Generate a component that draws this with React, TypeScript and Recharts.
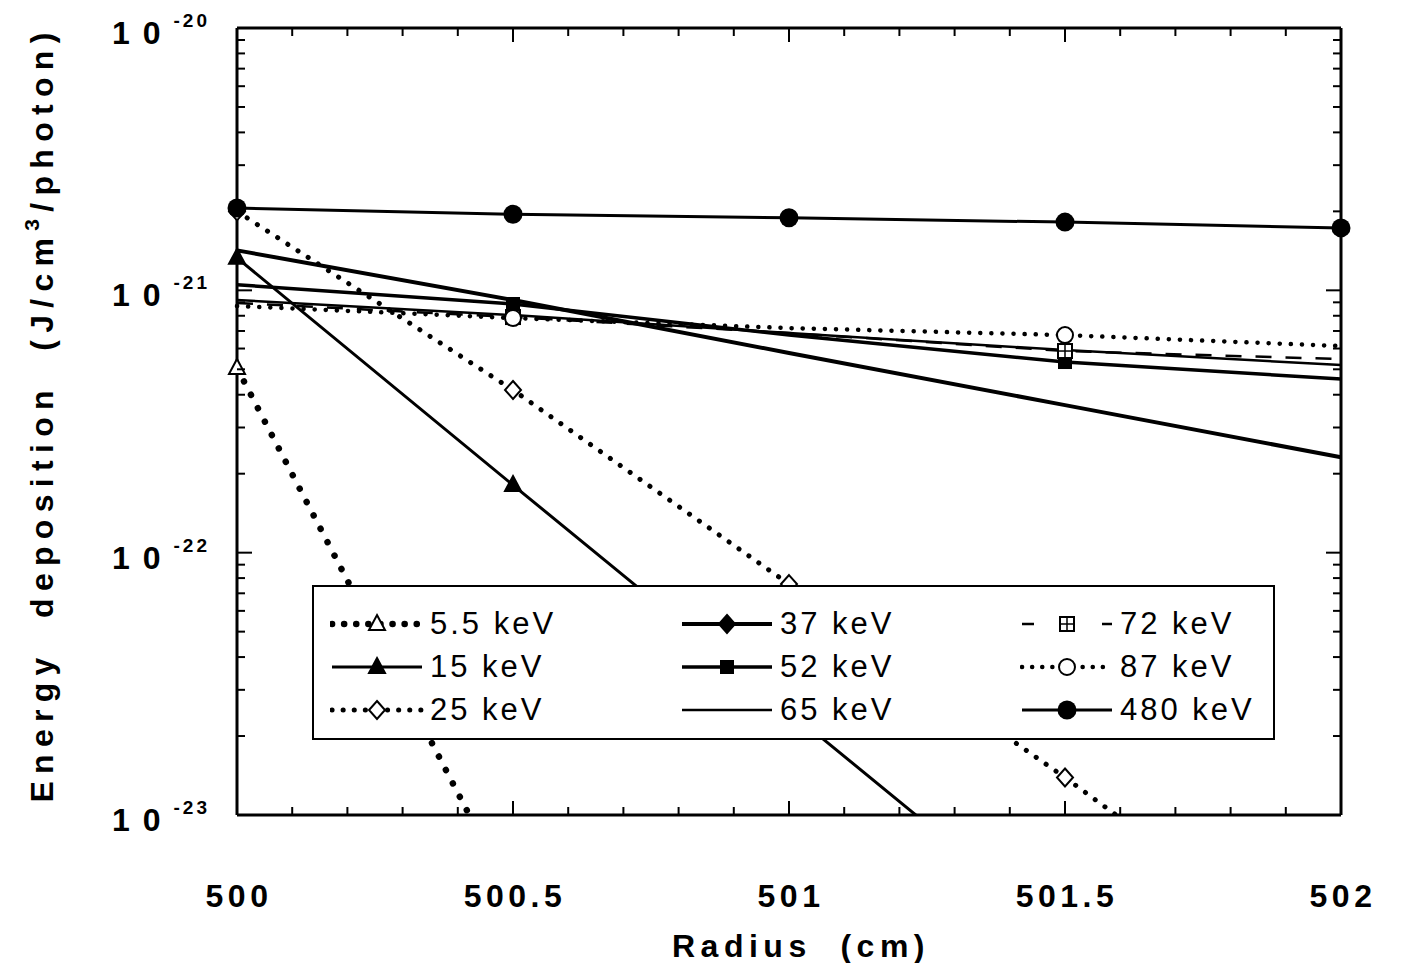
import React from 'react';
import { LineChart, Line, XAxis, YAxis, Legend } from 'recharts';

// radius (cm) where the curves were sampled
const radius = [500, 500.5, 501, 501.5, 502];

// energy deposition (J/cm^3/photon)
const kev5_5 = [5.06e-22, 4.78e-24, null, null, null];
const kev15 = [1.33e-21, 1.81e-22, 2.49e-23, 3.42e-24, null];
const kev25 = [2.0e-21, 4.17e-22, 7.59e-23, 1.39e-23, 2.35e-24];
const kev37 = [1.42e-21, 9.18e-22, 5.77e-22, 3.65e-22, 2.31e-22];
const kev52 = [1.05e-21, 8.87e-22, 6.75e-22, 5.33e-22, 4.59e-22];
const kev65 = [9.18e-22, 8.05e-22, 6.87e-22, 5.92e-22, 5.19e-22];
const kev72 = [8.95e-22, 7.91e-22, 6.87e-22, 5.87e-22, 5.47e-22];
const kev87 = [8.71e-22, 7.84e-22, 7.18e-22, 6.75e-22, 6.13e-22];
const kev480 = [2.06e-21, 1.95e-21, 1.89e-21, 1.82e-21, 1.73e-21];

const xTicks = [
  500, 500.1, 500.2, 500.3, 500.4, 500.5, 500.6, 500.7, 500.8, 500.9,
  501, 501.1, 501.2, 501.3, 501.4, 501.5, 501.6, 501.7, 501.8, 501.9, 502,
];
const xLabels = [500, 500.5, 501, 501.5, 502];
const yDecades = [1e-23, 1e-22, 1e-21, 1e-20];
const yTicks = [
  ...yDecades.slice(0, 3).flatMap((d) => [1, 2, 3, 4, 5, 6, 7, 8, 9].map((m) => m * d)),
  1e-20,
];

const FONT = '"Liberation Sans", Arial, Helvetica, sans-serif';

type Marker = 'triOpen' | 'triFill' | 'diaOpen' | 'diaFill' | 'sqFill' | 'sqCross' | 'cirOpen' | 'cirFill' | 'none';

const series = [
  { key: 'k5_5', name: '5.5 keV', values: kev5_5, width: 6.5, dash: '0.1 15', legendDash: '0.1 12', round: true, marker: 'triOpen' as Marker, markAt: [500] },
  { key: 'k15', name: '15 keV', values: kev15, width: 3, dash: undefined, legendDash: undefined, round: false, marker: 'triFill' as Marker, markAt: [500, 500.5, 501] },
  { key: 'k25', name: '25 keV', values: kev25, width: 5, dash: '0.1 12', legendDash: '0.1 11', round: true, marker: 'diaOpen' as Marker, markAt: [500, 500.5, 501, 501.5] },
  { key: 'k37', name: '37 keV', values: kev37, width: 4, dash: undefined, legendDash: undefined, round: false, marker: 'diaFill' as Marker, markAt: [] as number[] },
  { key: 'k52', name: '52 keV', values: kev52, width: 3.5, dash: undefined, legendDash: undefined, round: false, marker: 'sqFill' as Marker, markAt: [500.5, 501.5] },
  { key: 'k65', name: '65 keV', values: kev65, width: 2.5, dash: undefined, legendDash: undefined, round: false, marker: 'none' as Marker, markAt: [] as number[] },
  { key: 'k72', name: '72 keV', values: kev72, width: 2.5, dash: '16 14', legendDash: '12 28', round: false, marker: 'sqCross' as Marker, markAt: [500.5, 501.5] },
  { key: 'k87', name: '87 keV', values: kev87, width: 4.5, dash: '0.1 11', legendDash: '0.1 10', round: true, marker: 'cirOpen' as Marker, markAt: [500.5, 501.5] },
  { key: 'k480', name: '480 keV', values: kev480, width: 3, dash: undefined, legendDash: undefined, round: false, marker: 'cirFill' as Marker, markAt: radius },
];

const data = radius.map((r, i) => {
  const row: any = { r };
  series.forEach((s) => { row[s.key] = s.values[i]; });
  return row;
});

function drawMarker(type: Marker, cx: number, cy: number) {
  const sw = 2;
  switch (type) {
    case 'triOpen':
    case 'triFill':
      return <polygon points={`${cx},${cy - 9} ${cx + 8},${cy + 6} ${cx - 8},${cy + 6}`} fill={type === 'triFill' ? '#000' : '#fff'} stroke="#000" strokeWidth={sw} />;
    case 'diaOpen':
    case 'diaFill':
      return <polygon points={`${cx},${cy - 9} ${cx + 8},${cy} ${cx},${cy + 9} ${cx - 8},${cy}`} fill={type === 'diaFill' ? '#000' : '#fff'} stroke="#000" strokeWidth={sw} />;
    case 'sqFill':
      return <rect x={cx - 7} y={cy - 7} width={14} height={14} fill="#000" />;
    case 'sqCross':
      return (
        <g>
          <rect x={cx - 7} y={cy - 7} width={14} height={14} fill="#fff" stroke="#000" strokeWidth={sw} />
          <line x1={cx - 7} x2={cx + 7} y1={cy} y2={cy} stroke="#000" strokeWidth={1.5} />
          <line x1={cx} x2={cx} y1={cy - 7} y2={cy + 7} stroke="#000" strokeWidth={1.5} />
        </g>
      );
    case 'cirOpen':
      return <circle cx={cx} cy={cy} r={8} fill="#fff" stroke="#000" strokeWidth={sw} />;
    case 'cirFill':
      return <circle cx={cx} cy={cy} r={9.5} fill="#000" />;
    default:
      return null;
  }
}

const makeDot = (s: typeof series[number]) => (props: any) => {
  const { cx, cy, index, payload } = props;
  const k = `${s.key}-dot-${index}`;
  if (cx == null || cy == null || payload == null || payload[s.key] == null || !s.markAt.includes(payload.r)) {
    return <g key={k} />;
  }
  return <g key={k}>{drawMarker(s.marker, cx, cy)}</g>;
};

const isMajorX = (v: number) => xLabels.some((l) => Math.abs(l - v) < 1e-6);
const isDecade = (v: number) => Math.abs(Math.log10(v) - Math.round(Math.log10(v))) < 1e-6;

const BottomTick = (props: any) => {
  const { x, y, payload } = props;
  const v = payload.value;
  const major = isMajorX(v);
  return (
    <g>
      <line x1={x} x2={x} y1={y} y2={y - (major ? 14 : 8)} stroke="#000" strokeWidth={2} />
      {major && (
        <text x={x + 2} y={y + 92} textAnchor="middle" fontFamily={FONT} fontSize={32} fontWeight="bold" letterSpacing={4.5} fill="#000">
          {String(v)}
        </text>
      )}
    </g>
  );
};

const TopTick = (props: any) => {
  const { x, y, payload } = props;
  const major = isMajorX(payload.value);
  return <line x1={x} x2={x} y1={y} y2={y + (major ? 14 : 8)} stroke="#000" strokeWidth={2} />;
};

const LeftTick = (props: any) => {
  const { x, y, payload } = props;
  const v = payload.value;
  const major = isDecade(v);
  const exp = Math.round(Math.log10(v));
  return (
    <g>
      <line x1={x} x2={x + (major ? 15 : 8)} y1={y} y2={y} stroke="#000" strokeWidth={2} />
      {major && (
        <text x={x - 27} y={y + 16} textAnchor="end" fontFamily={FONT} fontWeight="bold" fill="#000">
          <tspan fontSize={32} letterSpacing={13}>10</tspan>
          <tspan fontSize={19} dy={-17} letterSpacing={3}>{String(exp)}</tspan>
        </text>
      )}
    </g>
  );
};

const RightTick = (props: any) => {
  const { x, y, payload } = props;
  const major = isDecade(payload.value);
  return <line x1={x} x2={x - (major ? 15 : 8)} y1={y} y2={y} stroke="#000" strokeWidth={2} />;
};

const xTitle = () => (
  <text x={793} y={949} textAnchor="middle" fontFamily={FONT} fontSize={32} fontWeight="bold" letterSpacing={5.5} fill="#000" style={{ whiteSpace: 'pre' }}>
    Radius  (cm)
  </text>
);

const yTitle = () => (
  <text transform="translate(45, 406) rotate(-90)" textAnchor="middle" fontFamily={FONT} fontSize={32} fontWeight="bold" letterSpacing={7.3} fill="#000" style={{ whiteSpace: 'pre' }}>
    Energy  deposition  (J/cm<tspan dy={-14} fontSize={21}>3</tspan><tspan dy={14}>/photon)</tspan>
  </text>
);

const legendCols = [18, 368, 708];
const legendRows = [37, 80, 123];

const LegendBox = () => (
  <div style={{ position: 'relative', width: 963, height: 155, boxSizing: 'border-box', border: '2px solid #000', background: '#fff', fontFamily: FONT }}>
    {series.map((s, i) => {
      const col = Math.floor(i / 3);
      const row = i % 3;
      const left = legendCols[col];
      const cy = legendRows[row];
      return (
        <div key={s.key} style={{ position: 'absolute', left: left - 2, top: cy - 22, height: 44, display: 'flex', alignItems: 'center' }}>
          <svg width={94} height={44} style={{ display: 'block' }}>
            <line x1={2} x2={92} y1={22} y2={22} stroke="#000" strokeWidth={s.width}
              strokeDasharray={s.legendDash} strokeLinecap={s.round ? 'round' : 'butt'} />
            {drawMarker(s.marker, 47, 22)}
          </svg>
          <span style={{ marginLeft: 6, fontSize: 31, letterSpacing: 3, color: '#000', whiteSpace: 'nowrap' }}>{s.name}</span>
        </div>
      );
    })}
  </div>
);

export default function App() {
  return (
    <div style={{ width: 1390, height: 955, background: '#fff' }}>
      <LineChart width={1390} height={955} data={data} margin={{ top: 19, right: 56, left: 0, bottom: 0 }}>
        <XAxis dataKey="r" type="number" domain={[500, 502]} ticks={xTicks} interval={0}
          height={148} tickSize={0} tickMargin={0} tickLine={false}
          axisLine={{ stroke: '#000', strokeWidth: 3 }} tick={<BottomTick />} label={xTitle} />
        <XAxis xAxisId="top" orientation="top" dataKey="r" type="number" domain={[500, 502]} ticks={xTicks} interval={0}
          height={1} tickSize={0} tickMargin={0} tickLine={false}
          axisLine={{ stroke: '#000', strokeWidth: 3 }} tick={<TopTick />} />
        <YAxis type="number" scale="log" domain={[1e-23, 1e-20]} allowDataOverflow ticks={yTicks} interval={0}
          width={229} tickSize={0} tickMargin={0} tickLine={false}
          axisLine={{ stroke: '#000', strokeWidth: 3 }} tick={<LeftTick />} label={yTitle} />
        <YAxis yAxisId="right" orientation="right" type="number" scale="log" domain={[1e-23, 1e-20]} allowDataOverflow ticks={yTicks} interval={0}
          width={1} tickSize={0} tickMargin={0} tickLine={false}
          axisLine={{ stroke: '#000', strokeWidth: 3 }} tick={<RightTick />} />
        <Legend layout="vertical" align="center" verticalAlign="middle"
          wrapperStyle={{ left: 304, top: 577, width: 963, height: 155 }} content={() => <LegendBox />} />
        {series.map((s) => (
          <Line key={s.key} dataKey={s.key} name={s.name} type="linear" stroke="#000" strokeWidth={s.width}
            strokeDasharray={s.dash} strokeLinecap={s.round ? 'round' : 'butt'}
            dot={makeDot(s)} activeDot={false} connectNulls={false} isAnimationActive={false} legendType="none" />
        ))}
        {/* invisible series that binds the frame axes (top and right) */}
        <Line xAxisId="top" yAxisId="right" dataKey="k480" stroke="none" dot={false} activeDot={false}
          isAnimationActive={false} legendType="none" />
      </LineChart>
    </div>
  );
}
